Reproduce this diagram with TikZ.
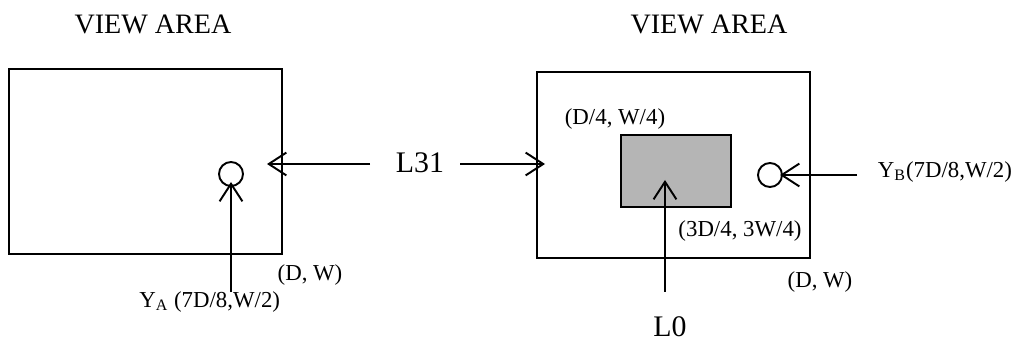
\documentclass[tikz,border=0pt]{standalone}
\usepackage{fontspec}
\setmainfont{Liberation Serif}
\usetikzlibrary{arrows.meta}
\begin{document}
\begin{tikzpicture}[
    x=0.02cm, y=-0.02cm,
    line width=1.1pt,
    >={Straight Barb[length=10pt,width=13pt]},
    every node/.style={inner sep=0pt},
    probe/.style={circle, draw, minimum size=0.48cm},
    small/.style={font=\fontsize{13}{15}\selectfont},
    big/.style={font=\fontsize{17}{20}\selectfont}
  ]
  \useasboundingbox (0,0) rectangle (1019,341);
  % left view
  \node (title1) [font=\fontsize{16}{19}\selectfont] at (153,24) {VIEW AREA};
  \node (view1) [draw, minimum width=273*0.02cm, minimum height=185*0.02cm] at (145.5,161.5) {};
  \node (yA) [probe] at (231,174) {};
  \node (dw1) [small] at (310,275) {(D, W)};
  \node (yAlabel) [small, anchor=east] at (281,302) {Y\textsubscript{A} (7D/8,W/2)};
  \coordinate (yAfoot) at (231,292);
  \coordinate (yAtip) at (231,182);
  \draw[->] (yAfoot) -- (yAtip);
  % right view
  \node (title2) [font=\fontsize{16}{19}\selectfont] at (709,24) {VIEW AREA};
  \node (view2) [draw, minimum width=273*0.02cm, minimum height=186*0.02cm] at (673.5,165) {};
  \node (spot) [draw, fill=gray!58, minimum width=110*0.02cm, minimum height=72*0.02cm] at (676,171) {};
  \node (yB) [probe] at (770,175) {};
  \node (tl) [small] at (615,119) {(D/4, W/4)};
  \node (br) [small] at (740,231) {(3D/4, 3W/4)};
  \node (dw2) [small] at (820,282) {(D, W)};
  \node (yBlabel) [small, anchor=west] at (877,172) {Y\textsubscript{B}(7D/8,W/2)};
  \coordinate (yBfoot) at (857,175);
  \coordinate (yBtip) at (780,175);
  \draw[->] (yBfoot) -- (yBtip);
  \node (l0) [big] at (670,327) {L0};
  \coordinate (l0foot) at (665,292);
  \coordinate (l0tip) at (665,180);
  \draw[->] (l0foot) -- (l0tip);
  % L31 in the middle
  \node (l31) [big] at (420,163) {L31};
  \coordinate (leftfoot) at (370,164);
  \coordinate (lefttip) at (267,164);
  \coordinate (rightfoot) at (460,164);
  \coordinate (righttip) at (545,164);
  \draw[->] (leftfoot) -- (lefttip);
  \draw[->] (rightfoot) -- (righttip);
\end{tikzpicture}
\end{document}
